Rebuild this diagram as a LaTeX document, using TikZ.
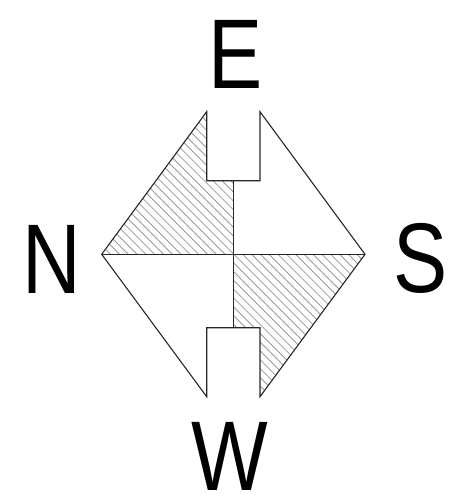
\documentclass[tikz,border=0pt]{standalone}
\usepackage{fontspec}
\setmainfont[FakeStretch=0.82]{Liberation Sans}
\begin{document}
\begin{tikzpicture}[x=1pt,y=-1pt,
  outline/.style={line width=1.1pt,draw=black!85,line join=miter},
  hatch/.style={line width=0.8pt,draw=black!40},
  letter/.style={anchor=base,inner sep=0pt,text depth=0pt,font=\fontsize{99}{100}\selectfont}]
\useasboundingbox (0,0) rectangle (474,496);
% key points
\coordinate (n) at (101.7,254.3);
\coordinate (s) at (365,254.3);
\coordinate (c) at (233.3,254.3);
\coordinate (tl) at (206.7,111.7);
\coordinate (tr) at (260,111.7);
\coordinate (tnl) at (206.7,180.7);
\coordinate (tnr) at (260,180.7);
\coordinate (tnc) at (233.3,180.7);
\coordinate (bl) at (206.7,396.7);
\coordinate (br) at (260,396.7);
\coordinate (bnl) at (206.7,327.7);
\coordinate (bnr) at (260,327.7);
\coordinate (bnc) at (233.3,327.7);
% hatching
\begin{scope}
  \clip (n) -- (tl) -- (tnl) -- (tnc) -- (c) -- cycle;
  \foreach \k in {-40,...,60} {
    \draw[hatch] (100+\k*8.8,50) -- (100+\k*8.8+450,500);
  }
\end{scope}
\begin{scope}
  \clip (c) -- (s) -- (br) -- (bnr) -- (bnc) -- cycle;
  \foreach \k in {-40,...,60} {
    \draw[hatch] (100+\k*8.8,50) -- (100+\k*8.8+450,500);
  }
\end{scope}
% outline
\draw[outline] (n) -- (tl) -- (tnl) -- (tnr) -- (tr) -- (s) -- (br) -- (bnr) -- (bnl) -- (bl) -- cycle;
\draw[outline] (n) -- (s);
\draw[outline] (tnc) -- (bnc);
% labels
\node[letter] (E) at (235.3,88.3) {E};
\node[letter] (N) at (51.7,293.3) {N};
\node[letter] (S) at (420.7,292.5) {S};
\node[letter] (W) at (230,490) {W};
\end{tikzpicture}
\end{document}
